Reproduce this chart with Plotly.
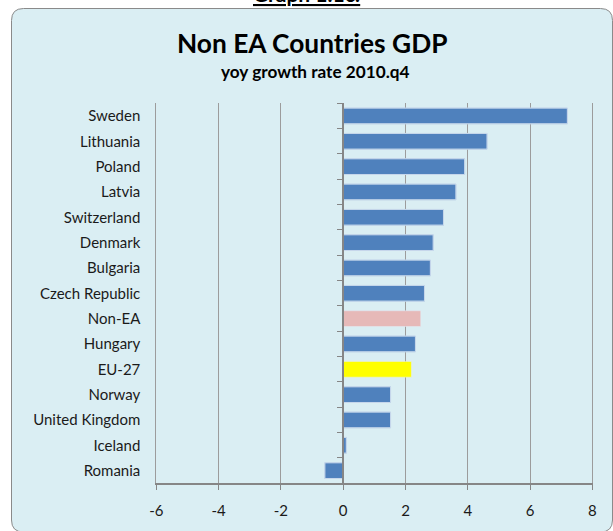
import plotly.graph_objects as go

countries = ["Sweden", "Lithuania", "Poland", "Latvia", "Switzerland", "Denmark",
             "Bulgaria", "Czech Republic", "Non-EA", "Hungary", "EU-27", "Norway",
             "United Kingdom", "Iceland", "Romania"]
growth = [7.2, 4.62, 3.9, 3.62, 3.22, 2.89, 2.8, 2.61, 2.49, 2.32, 2.19, 1.52, 1.52, 0.1, -0.59]
x_ticks = [-6, -4, -2, 0, 2, 4, 6, 8]
x_tick_labels = ["-6", "-4", "-2", "0", "2", "4", "6", "8"]

BLUE, PINK, YELLOW = "#4f81bd", "#e6b9b8", "#ffff00"
colors = [PINK if c == "Non-EA" else YELLOW if c == "EU-27" else BLUE for c in countries]
lines = ["rgba(0,0,0,0)" if c in ("Non-EA", "EU-27") else "#a9c2e0" for c in countries]

W, H = 613, 531
def px(x): return x / W
def py(y): return 1 - y / H

x0p, x1p = 156.4, 592.3
y0p, y1p = 103.3, 483.3
xdom = [px(x0p), px(x1p)]
ydom = [py(y1p), py(y0p)]
zero_pos = xdom[0] + (0 - x_ticks[0]) / (x_ticks[-1] - x_ticks[0]) * (xdom[1] - xdom[0])

FONT = "Lato"

fig = go.Figure()
fig.add_trace(go.Bar(x=growth, y=countries, orientation="h",
                     marker=dict(color=colors, line=dict(color=lines, width=1)),
                     width=0.62, hoverinfo="skip"))
fig.add_trace(go.Bar(x=growth, y=countries, orientation="h", yaxis="y2",
                     marker=dict(color="rgba(0,0,0,0)"), width=0.62,
                     hoverinfo="skip", showlegend=False))

# rounded frame
L, T, R, B, r = 11.5, 8.5, 612.5, 532.0, 12.0
path = (f"M {px(L+r)},{py(T)} L {px(R-r)},{py(T)} Q {px(R)},{py(T)} {px(R)},{py(T+r)} "
        f"L {px(R)},{py(B-r)} Q {px(R)},{py(B)} {px(R-r)},{py(B)} "
        f"L {px(L+r)},{py(B)} Q {px(L)},{py(B)} {px(L)},{py(B-r)} L {px(L)},{py(T+r)} "
        f"Q {px(L)},{py(T)} {px(L+r)},{py(T)} Z")
fig.add_shape(type="path", path=path, xref="paper", yref="paper",
              fillcolor="#daeef3", line=dict(color="#8a8a8a", width=1), layer="below")

fig.update_layout(
    width=W, height=H, margin=dict(l=0, r=0, t=0, b=0, autoexpand=False),
    paper_bgcolor="white", plot_bgcolor="white", showlegend=False,
    font=dict(family=FONT, color="#1a1a1a"),
    xaxis=dict(domain=xdom, range=[x_ticks[0], x_ticks[-1]], tickvals=x_ticks,
               ticktext=x_tick_labels,
               showgrid=True, gridcolor="#9c9c9c", gridwidth=1.2, zeroline=False,
               showline=True, linecolor="#868686", linewidth=1.5,
               ticks="outside", ticklen=5, tickcolor="#868686", tickwidth=1.2,
               tickfont=dict(size=15, family=FONT, color="#1a1a1a"), ticklabelstandoff=8),
    yaxis=dict(domain=ydom, type="category", categoryarray=countries, autorange="reversed",
               showgrid=False, zeroline=False, showline=True, mirror=True,
               linecolor="#9c9c9c", linewidth=1.2, ticks="",
               tickfont=dict(size=15, family=FONT, color="#1a1a1a"), ticklabelstandoff=12),
    yaxis2=dict(overlaying="y", anchor="free", position=zero_pos, side="left",
                type="category", categoryarray=countries, autorange="reversed",
                showgrid=False, zeroline=False, showline=True, linecolor="#868686",
                linewidth=1.5, ticks="outside", ticklen=5, tickcolor="#868686",
                tickwidth=1.2, tickson="boundaries", showticklabels=False),
    bargap=0.38,
    annotations=[
        dict(text="<b>Non EA Countries GDP</b>", x=px(312), y=py(43), xref="paper", yref="paper",
             showarrow=False, font=dict(size=26.3, family=FONT, color="black"), yanchor="middle"),
        dict(text="<b>yoy growth rate 2010.q4</b>", x=px(314.5), y=py(72), xref="paper", yref="paper",
             showarrow=False, font=dict(size=17.2, family=FONT, color="black"), yanchor="middle"),
        dict(text="<b><u>Graph 1.1c:</u></b>", x=px(307), y=py(8), xref="paper", yref="paper",
             showarrow=False, font=dict(size=21, family=FONT, color="black"), yanchor="bottom"),
    ],
)

fig.write_html("out.html", config={"displayModeBar": False},
               post_script="document.body.style.margin='0';")
